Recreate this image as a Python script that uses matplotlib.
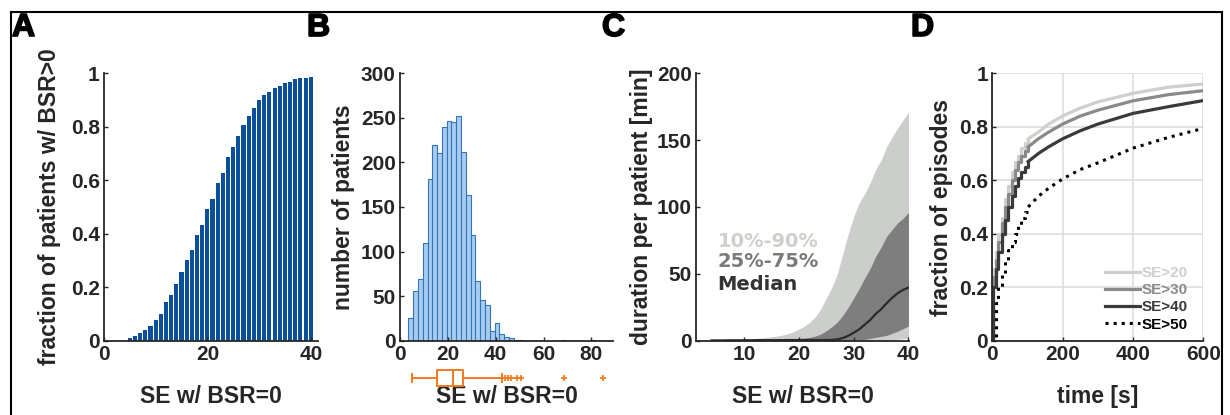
import numpy as np
import matplotlib.pyplot as plt
import matplotlib.patheffects as pe
from matplotlib.lines import Line2D

plt.rcParams['font.family'] = ['Liberation Sans', 'DejaVu Sans']
plt.rcParams['font.weight'] = 'bold'
plt.rcParams['axes.labelweight'] = 'bold'
plt.rcParams['text.color'] = '#262626'
plt.rcParams['axes.labelcolor'] = '#262626'
plt.rcParams['xtick.color'] = '#262626'
plt.rcParams['ytick.color'] = '#262626'

# ---- data ----
# A: cumulative fraction of patients with BSR>0
se_a = np.arange(5, 41)
frac_a = [0.009, 0.019, 0.03, 0.039, 0.056, 0.077, 0.10, 0.145, 0.171, 0.213,
          0.257, 0.302, 0.339, 0.397, 0.434, 0.491, 0.53, 0.589, 0.626, 0.686,
          0.726, 0.766, 0.807, 0.84, 0.872, 0.90, 0.92, 0.929, 0.944, 0.953,
          0.963, 0.969, 0.979, 0.983, 0.984, 0.988]

# B: histogram of SE w/ BSR=0 (bin width 2 starting at 3.5)
bin_edges_b = np.arange(3.5, 91, 2)
counts_b = [26, 56, 69, 110, 181, 219, 211, 240, 246, 245, 252, 212, 163, 119,
            67, 46, 40, 11, 20, 8, 4, 3, 1, 1, 0, 0, 0, 0, 0, 0, 0, 0, 1, 0,
            0, 0, 0, 0, 1, 0, 0, 0, 0]
box_b = dict(whislo=4.9, q1=15.5, med=22.1, q3=26.4, whishi=42.6,
             fliers=[43.7, 45.1, 46.5, 49.0, 50.7, 68.4, 84.9])

# C: duration per patient percentiles
se_c = np.arange(4, 41)
p90 = [0, 0.3, 0.5, 0.7, 0.9, 1.1, 1.3, 1.5, 1.7, 2.0, 2.4, 2.9, 3.5, 4.3, 5.3,
       6.8, 8.7, 11, 14, 18, 24, 32, 40, 50, 65, 80, 93, 103, 110, 118, 128,
       135, 145, 152, 159, 165, 171]
p75 = [0, 0.1, 0.2, 0.3, 0.4, 0.5, 0.6, 0.7, 0.8, 0.9, 1.0, 1.1, 1.2, 1.3, 1.4,
       1.5, 1.7, 2.0, 2.5, 3.5, 5, 7.5, 10.5, 14, 19, 25, 32, 39, 47, 54, 63,
       70, 78, 83, 88, 91.5, 96]
p50 = [0.2, 0.2, 0.2, 0.3, 0.3, 0.3, 0.3, 0.3, 0.4, 0.4, 0.4, 0.4, 0.4, 0.4,
       0.5, 0.5, 0.5, 0.5, 0.5, 0.5, 0.5, 0.5, 0.6, 1.0, 2.0, 3.7, 6.0, 8.5,
       12, 15.5, 20, 23.5, 28, 32, 35.5, 38, 39.7]
p25 = [0] * 26 + [0.3, 0.6, 1.0, 1.7, 2.5, 3.2, 4.0, 5.5, 7.0, 9.0, 11]
p10 = [0] * 32 + [0.3, 0.6, 1.0, 1.5, 2.0]

# D: cumulative fraction of episodes over time
t_d = [0, 3, 10, 17, 27, 36, 45, 55, 64, 74, 83, 93, 102,
       131, 160, 200, 250, 300, 400, 500, 600]
se20 = [0, 0.27, 0.33, 0.40, 0.46, 0.53, 0.58, 0.63, 0.67, 0.69, 0.72, 0.74, 0.755,
        0.78, 0.81, 0.84, 0.87, 0.893, 0.925, 0.948, 0.96]
se30 = [0, 0.24, 0.30, 0.37, 0.44, 0.50, 0.55, 0.60, 0.64, 0.67, 0.69, 0.71, 0.725,
        0.755, 0.78, 0.81, 0.84, 0.862, 0.897, 0.92, 0.935]
se40 = [0, 0.20, 0.27, 0.33, 0.40, 0.45, 0.50, 0.54, 0.58, 0.61, 0.63, 0.65, 0.67,
        0.70, 0.725, 0.755, 0.785, 0.81, 0.85, 0.875, 0.898]
se50 = [0, 0, 0.14, 0.20, 0.25, 0.30, 0.34, 0.37, 0.40, 0.43, 0.46, 0.48, 0.50,
        0.54, 0.57, 0.605, 0.64, 0.665, 0.72, 0.76, 0.794]
n_steps = 13  # first points drawn as a staircase

W, H = 1230, 415
fig = plt.figure(figsize=(W / 100, H / 100), dpi=100)


def px_axes(left, right, top=73.3, bottom=340.7):
    return fig.add_axes([left / W, 1 - bottom / H, (right - left) / W, (bottom - top) / H])


def style(ax, ylab, xlab, ylab_x):
    for s in ['top', 'right']:
        ax.spines[s].set_visible(False)
    for s in ['left', 'bottom']:
        ax.spines[s].set_color('#262626')
        ax.spines[s].set_linewidth(1.3)
    ax.tick_params(direction='in', length=3, width=1, labelsize=15, pad=3)
    ax.set_ylabel(ylab, fontsize=16.5)
    ax.yaxis.set_label_coords(ylab_x, 0.5)
    ax.set_xlabel(xlab, fontsize=16.5)
    ax.xaxis.set_label_coords(0.5, -0.207)
    ax.xaxis.label.set_va('center')


def fmt(v):
    return '{:g}'.format(v)


# ---- A ----
axA = px_axes(104, 318)
axA.bar(se_a, frac_a, width=0.8, color='#0b4f99', edgecolor='none')
axA.set_xlim(0, 41.4)
axA.set_ylim(0, 1)
axA.set_xticks([0, 20, 40])
axA.set_yticks(np.arange(0, 1.01, 0.2))
axA.set_yticklabels([fmt(round(v, 1)) for v in np.arange(0, 1.01, 0.2)])
style(axA, 'fraction of patients w/ BSR>0', 'SE w/ BSR=0', -0.199)

# ---- B ----
axB = px_axes(400, 613)
axB.bar(bin_edges_b[:-1], counts_b, width=2, align='edge', color='#a8ccef',
        edgecolor='#3474b9', linewidth=0.8)
axB.set_xlim(0, 89)
axB.set_ylim(0, 300)
axB.set_xticks([0, 20, 40, 60, 80])
axB.set_yticks(range(0, 301, 50))
style(axB, 'number of patients', 'SE w/ BSR=0', -0.211)

axBox = fig.add_axes([400 / W, 1 - 387 / H, 213 / W, 18 / H])
orange = '#f37a1f'
axBox.bxp([box_b], vert=False, widths=0.85, showfliers=True,
          boxprops=dict(color=orange, linewidth=1.4),
          medianprops=dict(color=orange, linewidth=1.4),
          whiskerprops=dict(color=orange, linewidth=1.4, linestyle='-'),
          capprops=dict(color=orange, linewidth=1.4),
          flierprops=dict(marker='+', markeredgecolor=orange, markersize=5, markeredgewidth=1.3))
axBox.set_xlim(0, 89)
axBox.set_ylim(0.5, 1.5)
axBox.axis('off')

# ---- C ----
axC = px_axes(696, 909)
axC.fill_between(se_c, p10, p90, color='#cccecb', linewidth=0)
axC.fill_between(se_c, p25, p75, color='#7e7e7e', linewidth=0)
axC.plot(se_c, p50, color='#2a2a2a', linewidth=1.6)
axC.set_xlim(1.15, 40.1)
axC.set_ylim(0, 200)
axC.set_xticks([10, 20, 30, 40])
axC.set_yticks(range(0, 201, 50))
style(axC, 'duration per patient [min]', 'SE w/ BSR=0', -0.203)
for lab, col, yy in [('10%-90%', '#cfd0cc', 0.370), ('25%-75%', '#7a7a7a', 0.295),
                     ('Median', '#333333', 0.212)]:
    axC.text(0.102, yy, lab, color=col, fontsize=14, fontweight='bold',
             family=['DejaVu Sans'], transform=axC.transAxes, va='center', ha='left')

# ---- D ----
axD = px_axes(992.3, 1203.3)
axD.grid(True, color='#dedede', linewidth=1.2)
axD.set_axisbelow(True)
cols = ['#cfd0cc', '#8a8a8a', '#3a3a3a']
for vals, col in zip([se20, se30, se40], cols):
    axD.step(t_d[:n_steps], vals[:n_steps], where='post', color=col, linewidth=2.3)
    axD.plot(t_d[n_steps - 1:], vals[n_steps - 1:], color=col, linewidth=2.3)
axD.step(t_d[:n_steps], se50[:n_steps], where='post', color='black', linewidth=2.2, linestyle=':')
axD.plot(t_d[n_steps - 1:], se50[n_steps - 1:], color='black', linewidth=2.2, linestyle=':')
axD.set_xlim(0, 600)
axD.set_ylim(0, 1)
axD.set_xticks([0, 200, 400, 600])
axD.set_yticks(np.arange(0, 1.01, 0.2))
axD.set_yticklabels([fmt(round(v, 1)) for v in np.arange(0, 1.01, 0.2)])
style(axD, 'fraction of episodes', 'time [s]', -0.186)
handles = [Line2D([], [], color=c, linewidth=2.3) for c in cols]
handles.append(Line2D([], [], color='black', linewidth=2.2, linestyle=':'))
leg = axD.legend(handles, ['SE>20', 'SE>30', 'SE>40', 'SE>50'], loc='lower right',
                 bbox_to_anchor=(0.97, 0.0), frameon=False, fontsize=11,
                 handlelength=2.3, handletextpad=0.1, labelspacing=0.2,
                 borderaxespad=0.2, labelcolor='linecolor')
for t in leg.get_texts():
    t.set_fontweight('bold')

# ---- panel letters and border ----
for lab, x in [('A', 12), ('B', 307), ('C', 602), ('D', 911)]:
    fig.text(x / W, 1 - 13 / H, lab, fontsize=23, fontweight='bold', color='black',
             ha='left', va='top',
             path_effects=[pe.withStroke(linewidth=1.2, foreground='black')])

bx = [11 / W, 1221.5 / W]
by = 1 - 12 / H
fig.add_artist(Line2D([bx[0], bx[1]], [by, by], color='black', linewidth=1.5))
fig.add_artist(Line2D([bx[0], bx[0]], [0, by], color='black', linewidth=1.5))
fig.add_artist(Line2D([bx[1], bx[1]], [0, by], color='black', linewidth=1.5))

fig.savefig('out.png', dpi=100)
